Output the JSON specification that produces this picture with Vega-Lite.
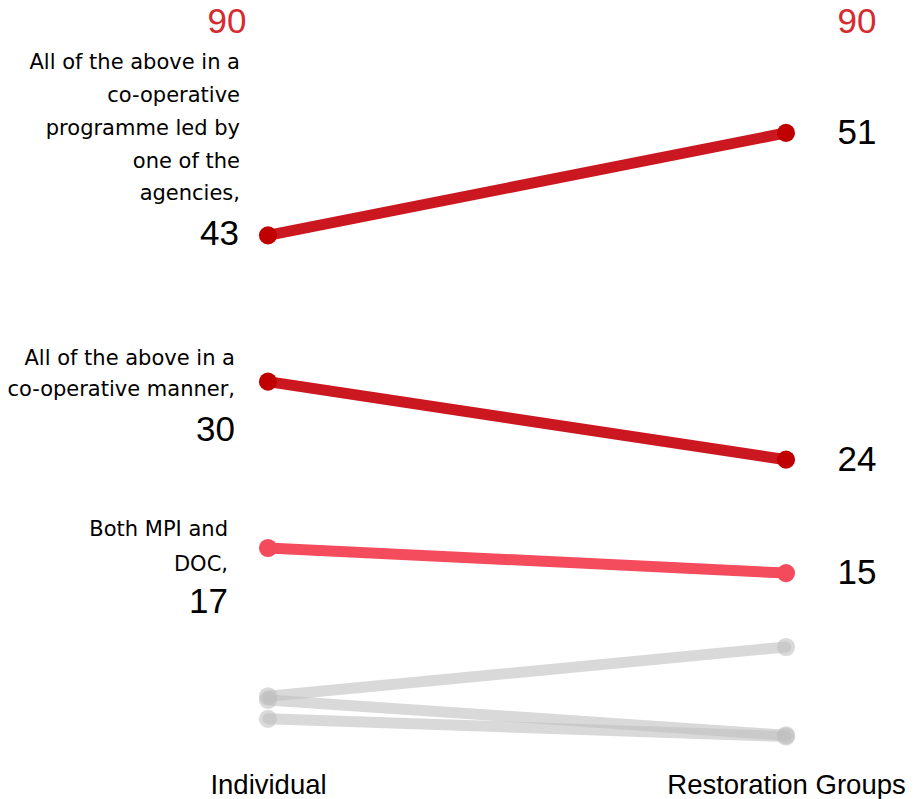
{
  "$schema": "https://vega.github.io/schema/vega-lite/v6.json",
  "autosize": {"type": "none"},
  "padding": {"left": 268, "top": 0, "right": 136, "bottom": 43},
  "width": 518,
  "height": 756,
  "background": "white",
  "config": {"view": {"stroke": null}, "font": "Liberation Sans"},
  "datasets": {
    "slopes": [
      {"series": "A", "group": "Individual", "value": 42.7, "shown": "43", "kind": "highlight", "label": "All of the above in a\nco-operative\nprogramme led by\none of the\nagencies,"},
      {"series": "A", "group": "Restoration Groups", "value": 51.1, "shown": "51", "kind": "highlight", "label": "All of the above in a\nco-operative\nprogramme led by\none of the\nagencies,"},
      {"series": "B", "group": "Individual", "value": 30.7, "shown": "30", "kind": "highlight", "label": "All of the above in a\nco-operative manner,"},
      {"series": "B", "group": "Restoration Groups", "value": 24.3, "shown": "24", "kind": "highlight", "label": "All of the above in a\nco-operative manner,"},
      {"series": "C", "group": "Individual", "value": 17.06, "shown": "17", "kind": "highlight", "label": "Both MPI and\nDOC,"},
      {"series": "C", "group": "Restoration Groups", "value": 15.0, "shown": "15", "kind": "highlight", "label": "Both MPI and\nDOC,"},
      {"series": "D", "group": "Individual", "value": 4.9, "shown": "5", "kind": "other", "label": ""},
      {"series": "D", "group": "Restoration Groups", "value": 8.94, "shown": "9", "kind": "other", "label": ""},
      {"series": "E", "group": "Individual", "value": 4.6, "shown": "5", "kind": "other", "label": ""},
      {"series": "E", "group": "Restoration Groups", "value": 1.7, "shown": "2", "kind": "other", "label": ""},
      {"series": "F", "group": "Individual", "value": 3.05, "shown": "3", "kind": "other", "label": ""},
      {"series": "F", "group": "Restoration Groups", "value": 1.6, "shown": "2", "kind": "other", "label": ""}
    ],
    "totals": [
      {"group": "Individual", "total": "90"},
      {"group": "Restoration Groups", "total": "90"}
    ]
  },
  "layer": [
    {
      "data": {"name": "slopes"},
      "encoding": {
        "x": {
          "field": "group", "type": "nominal",
          "scale": {"type": "point", "padding": 0, "domain": ["Individual", "Restoration Groups"]},
          "axis": {"title": null, "domain": false, "ticks": false, "grid": false, "labelAngle": 0, "labelFontSize": 27.5, "labelColor": "#000000", "labelPadding": 15, "labelLimit": 0, "labelFont": "Liberation Sans"}
        },
        "y": {
          "field": "value", "type": "quantitative",
          "scale": {"domain": [0, 62], "nice": false, "zero": true},
          "axis": null
        }
      },
      "layer": [
        {
          "transform": [{"filter": "datum.kind === 'other'"}],
          "mark": {"type": "line", "strokeWidth": 11, "color": "#bfbfbf", "opacity": 0.6, "strokeCap": "round"},
          "encoding": {"detail": {"field": "series"}}
        },
        {
          "transform": [{"filter": "datum.kind === 'highlight'"}],
          "mark": {"type": "line", "strokeWidth": 11, "strokeCap": "round"},
          "encoding": {
            "color": {"field": "series", "type": "nominal", "scale": {"domain": ["A", "B", "C"], "range": ["#cb1820", "#cb1820", "#f54c5d"]}, "legend": null}
          }
        },
        {
          "transform": [{"filter": "datum.kind === 'other'"}],
          "mark": {"type": "point", "filled": true, "size": 330, "color": "#bfbfbf", "opacity": 0.6}
        },
        {
          "transform": [{"filter": "datum.kind === 'highlight'"}],
          "mark": {"type": "point", "filled": true, "size": 330, "opacity": 1},
          "encoding": {
            "fill": {"field": "series", "type": "nominal", "scale": {"domain": ["A", "B", "C"], "range": ["#c00000", "#c00000", "#f44a5b"]}, "legend": null}
          }
        },
        {
          "transform": [{"filter": "datum.kind === 'highlight' && datum.group === 'Restoration Groups'"}],
          "mark": {"type": "text", "fontSize": 35, "align": "center", "baseline": "middle", "dx": 71, "color": "#000000"},
          "encoding": {"text": {"field": "shown"}}
        },
        {
          "transform": [{"filter": "datum.series === 'A' && datum.group === 'Individual'"}],
          "mark": {"type": "text", "font": "DejaVu Sans", "fontSize": 21, "align": "right", "baseline": "middle", "dx": -28, "dy": -172, "lineBreak": "\n", "lineHeight": 32.75, "color": "#000000"},
          "encoding": {"text": {"field": "label"}}
        },
        {
          "transform": [{"filter": "datum.series === 'A' && datum.group === 'Individual'"}],
          "mark": {"type": "text", "fontSize": 35, "align": "right", "baseline": "middle", "dx": -29, "dy": -1, "color": "#000000"},
          "encoding": {"text": {"field": "shown"}}
        },
        {
          "transform": [{"filter": "datum.series === 'B' && datum.group === 'Individual'"}],
          "mark": {"type": "text", "font": "DejaVu Sans", "fontSize": 21, "align": "right", "baseline": "middle", "dx": -33, "dy": -23, "lineBreak": "\n", "lineHeight": 31, "color": "#000000"},
          "encoding": {"text": {"field": "label"}}
        },
        {
          "transform": [{"filter": "datum.series === 'B' && datum.group === 'Individual'"}],
          "mark": {"type": "text", "fontSize": 35, "align": "right", "baseline": "middle", "dx": -33, "dy": 48, "color": "#000000"},
          "encoding": {"text": {"field": "shown"}}
        },
        {
          "transform": [{"filter": "datum.series === 'C' && datum.group === 'Individual'"}],
          "mark": {"type": "text", "font": "DejaVu Sans", "fontSize": 21, "align": "right", "baseline": "middle", "dx": -40, "dy": -18, "lineBreak": "\n", "lineHeight": 35, "color": "#000000"},
          "encoding": {"text": {"field": "label"}}
        },
        {
          "transform": [{"filter": "datum.series === 'C' && datum.group === 'Individual'"}],
          "mark": {"type": "text", "fontSize": 35, "align": "right", "baseline": "middle", "dx": -40, "dy": 54, "color": "#000000"},
          "encoding": {"text": {"field": "shown"}}
        }
      ]
    },
    {
      "data": {"name": "totals"},
      "encoding": {
        "x": {
          "field": "group", "type": "nominal",
          "scale": {"type": "point", "padding": 0, "domain": ["Individual", "Restoration Groups"]},
          "axis": {"title": null, "domain": false, "ticks": false, "grid": false, "labelAngle": 0, "labelFontSize": 27.5, "labelColor": "#000000", "labelPadding": 15, "labelLimit": 0, "labelFont": "Liberation Sans"}
        },
        "y": {"datum": 60.2, "type": "quantitative"},
        "text": {"field": "total", "type": "nominal"}
      },
      "layer": [
        {
          "transform": [{"filter": "datum.group === 'Individual'"}],
          "mark": {"type": "text", "fontSize": 35, "align": "center", "baseline": "middle", "dx": -41, "color": "#d62b2f"}
        },
        {
          "transform": [{"filter": "datum.group === 'Restoration Groups'"}],
          "mark": {"type": "text", "fontSize": 35, "align": "center", "baseline": "middle", "dx": 71, "color": "#d62b2f"}
        }
      ]
    }
  ]
}
